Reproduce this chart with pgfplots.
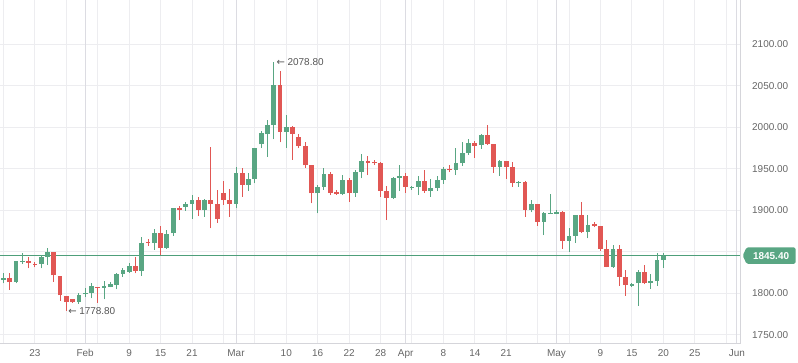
\documentclass[border=0pt]{standalone}
\usepackage{fontspec}
\setmainfont{Liberation Sans}
\newfontfamily\arrowfont{DejaVu Sans}
\usepackage{pgfplots}
\usepackage{pgfplotstable}
\pgfplotsset{compat=1.18}
\usetikzlibrary{shapes.symbols}

\definecolor{cgreen}{HTML}{59A683}
\definecolor{cred}{HTML}{E15754}
\definecolor{lgreen}{HTML}{4E9F7A}
\definecolor{gridc}{HTML}{EDEDF0}
\definecolor{monthc}{HTML}{DCDCE2}
\definecolor{axisc}{HTML}{D5D5DA}
\definecolor{tickc}{HTML}{666666}
\definecolor{annc}{HTML}{555555}

% i = trading-day index, o h l c
\pgfplotstableread{
i o h l c
0 1816.0 1824.1 1812.0 1818.8
2 1813.6 1839.5 1812.0 1838.9
3 1837.5 1848.2 1835.3 1839.0
6 1835.3 1846.1 1830.1 1843.4
7 1844.1 1854.9 1834.1 1849.8
12 1789.5 1800.7 1787.1 1798.0
13 1798.8 1806.0 1795.9 1800.7
14 1800.7 1812.0 1794.0 1808.8
16 1806.7 1815.2 1792.8 1808.8
17 1808.0 1814.0 1807.0 1810.8
18 1810.0 1824.8 1804.8 1823.6
19 1823.6 1830.1 1820.0 1827.7
20 1826.0 1836.1 1824.8 1832.9
22 1827.2 1868.2 1821.2 1860.2
24 1861.0 1877.1 1852.2 1872.3
26 1854.9 1876.3 1853.4 1871.1
27 1872.3 1903.1 1869.4 1902.4
29 1904.3 1909.6 1899.5 1907.6
30 1907.6 1918.4 1889.5 1912.4
32 1900.4 1913.6 1892.3 1912.4
37 1907.6 1952.5 1902.4 1945.3
39 1930.5 1945.3 1923.6 1937.7
40 1937.7 1975.2 1932.5 1974.7
41 1979.3 1995.9 1975.0 1993.1
42 1991.6 2008.8 1964.6 2002.8
43 2002.8 2078.8 1985.5 2051.0
45 1994.7 2014.8 1975.1 2000.0
50 1920.5 1930.5 1896.4 1928.1
51 1928.4 1950.6 1924.5 1943.7
54 1919.3 1942.5 1918.4 1936.5
56 1920.5 1948.6 1916.4 1946.5
57 1946.5 1967.5 1938.5 1959.4
62 1915.2 1940.0 1913.5 1938.9
63 1939.3 1954.6 1923.6 1941.3
65 1926.9 1929.6 1924.5 1928.4
66 1928.4 1941.3 1918.4 1935.3
68 1923.6 1937.3 1916.4 1926.9
69 1926.9 1941.3 1923.6 1936.5
70 1936.5 1952.5 1931.7 1949.4
72 1948.6 1974.7 1942.5 1956.6
73 1956.6 1982.6 1953.4 1969.0
74 1969.0 1985.5 1966.6 1980.7
76 1978.7 1991.9 1973.9 1990.7
79 1952.5 1960.6 1941.7 1959.4
82 1932.5 1935.7 1928.4 1934.5
84 1900.4 1912.4 1897.6 1907.6
86 1886.3 1898.3 1870.2 1897.1
87 1895.9 1919.6 1895.6 1897.1
88 1895.9 1900.4 1895.6 1898.3
90 1863.4 1879.0 1850.1 1869.0
91 1869.4 1894.3 1861.0 1894.3
93 1874.2 1894.3 1866.3 1882.3
97 1832.0 1858.2 1830.8 1853.4
100 1809.2 1812.0 1808.0 1811.2
101 1812.0 1828.1 1785.1 1825.3
103 1812.8 1823.3 1805.2 1814.8
104 1814.8 1848.2 1809.2 1840.1
105 1840.1 1848.9 1830.8 1845.4
}\greendata

\pgfplotstableread{
i o h l c
1 1818.8 1824.1 1804.0 1813.6
4 1838.9 1844.1 1830.1 1836.9
5 1835.3 1838.1 1831.3 1834.1
8 1849.8 1850.0 1814.0 1821.7
9 1820.8 1821.0 1791.1 1797.6
10 1796.7 1796.9 1778.8 1789.5
11 1792.8 1793.5 1788.7 1789.5
15 1807.6 1807.8 1788.7 1806.4
21 1832.9 1843.4 1824.1 1827.2
23 1862.2 1865.4 1857.0 1861.0
25 1872.3 1881.1 1846.1 1854.9
28 1903.1 1905.5 1888.3 1900.4
31 1912.4 1915.7 1893.1 1900.4
33 1912.4 1976.6 1878.3 1907.6
34 1907.6 1924.5 1885.1 1889.5
35 1921.2 1935.3 1906.4 1912.4
36 1912.4 1925.3 1892.3 1907.6
38 1945.3 1951.3 1916.4 1930.5
44 2051.0 2067.8 1981.7 1994.7
46 2000.4 2001.6 1961.2 1992.3
47 1988.3 1991.9 1974.7 1977.5
48 1977.5 1981.7 1951.0 1954.0
49 1954.6 1954.8 1908.4 1920.5
52 1943.7 1946.5 1918.4 1921.2
53 1922.4 1924.5 1919.0 1919.3
55 1936.5 1938.5 1910.4 1920.5
58 1959.4 1965.8 1942.5 1957.3
59 1958.6 1960.6 1954.6 1956.6
60 1957.3 1958.6 1916.4 1923.3
61 1923.3 1929.3 1888.3 1915.2
64 1941.3 1945.3 1921.2 1928.4
67 1935.3 1948.6 1921.2 1923.6
71 1949.8 1954.6 1946.5 1948.2
75 1980.7 1983.9 1963.4 1977.8
77 1990.7 2002.8 1978.7 1979.9
78 1979.9 1980.1 1945.3 1952.5
80 1959.4 1959.6 1937.7 1952.5
81 1952.5 1957.8 1928.4 1933.2
83 1934.5 1934.7 1892.3 1900.4
85 1907.6 1907.8 1881.4 1886.3
89 1898.3 1899.5 1853.4 1863.4
92 1894.3 1910.4 1873.0 1874.2
94 1883.5 1886.3 1879.5 1881.1
95 1881.1 1881.3 1851.3 1853.4
96 1853.4 1864.2 1831.3 1832.0
98 1853.4 1858.2 1809.2 1820.0
99 1820.0 1828.1 1797.1 1810.0
102 1825.3 1834.1 1810.8 1812.0
}\reddata

\begin{document}
\begin{tikzpicture}
\useasboundingbox (0,-20bp) rectangle (798bp,343bp);
\begin{axis}[
  at={(0,0)}, anchor=south west,
  scale only axis, width=740bp, height=343bp,
  xmin=-0.557, xmax=117.2, ymin=1740.1, ymax=2153.4,
  clip mode=individual,
  axis line style={draw=none},
  major tick length=0pt, minor tick length=0pt,
  xtick={5,20,25,30,45,50,55,60,70,75,80,95,100,105,110},
  xticklabels={23,9,15,21,10,16,22,28,8,14,21,9,15,20,25},
  extra x ticks={13,37,64,88,116.7},
  extra x tick labels={Feb,Mar,Apr,May,Jun},
  extra x tick style={grid style={draw=monthc, line width=1bp}},
  minor xtick={0,5,...,115},
  xmajorgrids, xminorgrids, ymajorgrids,
  grid style={draw=gridc, line width=1bp},
  minor grid style={draw=gridc, line width=1bp},
  ytick={1750,1800,1850,1900,1950,2000,2050,2100},
  yticklabels={1750.00,1800.00,,1900.00,1950.00,2000.00,2050.00,2100.00},
  yticklabel pos=right,
  tick label style={font=\fontsize{10}{12}\selectfont, text=tickc},
  yticklabel style={anchor=west, inner sep=0pt, xshift=12bp},
  xticklabel style={anchor=north, inner sep=0pt, yshift=-6.5bp},
]
\draw[axisc, line width=1bp] (rel axis cs:0,0) -- (rel axis cs:1,0) -- (rel axis cs:1,1);

\addplot[lgreen, line width=1bp, forget plot] coordinates {(-0.557,1845.4) (117.2,1845.4)};

% wicks
\addplot[draw=none, mark=none, forget plot, error bars/.cd, y dir=plus, y explicit, error mark=none,
  error bar style={draw=cgreen, line width=1bp}]
  table[x=i, y=l, y error plus expr=\thisrow{h}-\thisrow{l}] {\greendata};
\addplot[draw=none, mark=none, forget plot, error bars/.cd, y dir=plus, y explicit, error mark=none,
  error bar style={draw=cred, line width=1bp}]
  table[x=i, y=l, y error plus expr=\thisrow{h}-\thisrow{l}] {\reddata};
% bodies
\addplot[draw=none, mark=none, forget plot, error bars/.cd, y dir=plus, y explicit, error mark=none,
  error bar style={draw=cgreen, line width=4.8bp}]
  table[x=i, y=o, y error plus expr=\thisrow{c}-\thisrow{o}] {\greendata};
\addplot[draw=none, mark=none, forget plot, error bars/.cd, y dir=plus, y explicit, error mark=none,
  error bar style={draw=cred, line width=4.8bp}]
  table[x=i, y=c, y error plus expr=\thisrow{o}-\thisrow{c}] {\reddata};

\node[anchor=west, inner sep=0pt, text=annc, font=\fontsize{10}{12}\selectfont] at (axis cs:43.45,2078.8) {{\arrowfont ←}\hspace{2.5bp}2078.80};
\node[anchor=west, inner sep=0pt, text=annc, font=\fontsize{10}{12}\selectfont] at (axis cs:10.3,1778.8) {{\arrowfont ←}\hspace{2.5bp}1778.80};

\node[signal, signal to=west, signal pointer angle=130, fill=cgreen, text=white,
  font=\bfseries\fontsize{10}{12}\selectfont, inner xsep=6.5bp, inner ysep=2bp,
  minimum height=16.5bp, anchor=west, xshift=2.5bp, rounded corners=1.5bp]
  at (axis cs:117.2,1845.4) {1845.40};
\end{axis}
\end{tikzpicture}
\end{document}
